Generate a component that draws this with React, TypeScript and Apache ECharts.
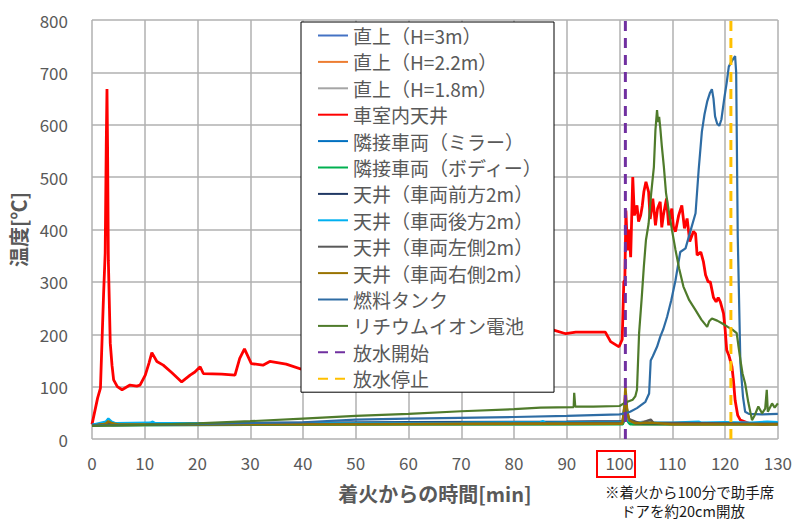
import React, { useEffect, useRef } from "react";
import * as echarts from "echarts";

type Pt = [number, number];

const FONT = "'Noto Sans CJK JP', 'Noto Sans', sans-serif";

const X_MIN = 0;
const X_MAX = 130;
const X_STEP = 10;
const Y_MIN = 0;
const Y_MAX = 800;
const Y_STEP = 100;

const seriesNames = [
  "直上（H=3m）",
  "直上（H=2.2m）",
  "直上（H=1.8m）",
  "車室内天井",
  "隣接車両（ミラー）",
  "隣接車両（ボディー）",
  "天井（車両前方2m）",
  "天井（車両後方2m）",
  "天井（車両左側2m）",
  "天井（車両右側2m）",
  "燃料タンク",
  "リチウムイオン電池",
  "放水開始",
  "放水停止",
];

const seriesColors = [
  "#4472c4",
  "#ed7d31",
  "#a5a5a5",
  "#ff0000",
  "#0070c0",
  "#00b050",
  "#203864",
  "#00b0f0",
  "#595959",
  "#997300",
  "#2e6ca4",
  "#4f7b2b",
  "#7030a0",
  "#ffc000",
];

const directH3: Pt[] = [
  [0, 26], [2.5, 27], [3, 31], [4, 28], [10, 27], [20, 27], [40, 28], [60, 29], [80, 29], [95, 30],
  [100.6, 31], [101.1, 58], [101.6, 34], [102.5, 29], [110, 28], [120, 28], [125, 28], [130, 29],
];
const directH22: Pt[] = [
  [0, 25], [3, 29], [4, 27], [20, 27], [50, 28], [80, 28], [100.6, 29], [101.1, 88], [101.5, 40],
  [102.5, 28], [130, 28],
];
const directH18: Pt[] = [
  [0, 25], [3, 28], [4, 26], [30, 27], [60, 27], [90, 28], [100.6, 29], [101.1, 70], [101.7, 36],
  [103, 30], [105.9, 36], [106.5, 30], [130, 28],
];
const cabinCeiling: Pt[] = [
  [0, 28], [1.06, 78], [1.6, 97], [2.2, 278], [2.5, 355], [2.7, 560], [2.84, 668], [2.95, 560],
  [3.1, 341], [3.46, 183], [3.8, 140], [4.1, 113], [4.8, 100], [5.7, 94], [7.2, 103], [8.5, 101],
  [9.1, 103], [10.1, 122], [10.8, 145], [11.34, 165], [12.3, 148], [13.5, 141], [15.2, 126],
  [17.0, 109], [18.6, 122], [19.5, 128], [20.5, 138], [21.1, 125], [24.6, 124], [27.1, 122],
  [28.0, 154], [28.9, 172], [30.2, 144], [32.4, 141], [33.7, 148], [36.8, 143], [41.3, 128],
  [42.8, 143], [45.6, 128], [47.9, 137], [49.4, 126], [53.8, 130], [57.0, 137], [58.6, 166],
  [60.8, 150], [62.7, 160], [64.9, 170], [66.1, 163], [67.7, 171], [71.5, 158], [74.0, 160],
  [77.1, 173], [80.0, 189], [81.5, 176], [84.1, 183], [86.6, 207], [87.2, 209], [89.8, 201],
  [91.7, 204], [93.6, 204], [97.3, 204], [98.3, 186], [99.9, 176], [100.5, 190], [100.8, 300],
  [101.0, 303], [101.2, 436], [101.5, 360], [101.8, 400], [102.1, 347], [102.5, 500], [102.8, 427],
  [103.3, 446], [103.6, 415], [104.0, 427], [104.3, 445], [104.6, 472], [105.0, 491], [105.5, 472],
  [105.8, 420], [106.0, 434], [106.3, 459], [106.6, 430], [106.8, 408], [107.2, 440], [107.7, 453],
  [108.0, 404], [108.3, 427], [108.9, 459], [109.3, 408], [109.6, 425], [109.9, 440], [110.2, 405],
  [110.6, 396], [111.2, 427], [111.8, 446], [112.3, 402], [112.8, 421], [113.3, 377], [114.0, 396],
  [114.4, 392], [114.7, 351], [115.4, 357], [115.9, 338], [116.3, 313], [116.8, 300], [117.2, 300],
  [117.8, 270], [118.3, 262], [118.7, 270], [119.1, 262], [119.7, 240], [120.0, 210], [120.3, 170],
  [120.7, 160], [121.3, 138], [121.6, 110], [121.9, 74], [122.4, 45], [122.9, 36], [124.5, 30],
  [127, 28], [130, 29],
];
const adjMirror: Pt[] = [
  [0, 27], [20, 28], [50, 29], [80, 30], [100.6, 31], [101.1, 50], [101.8, 30], [120, 29], [130, 30],
];
const adjBody: Pt[] = [
  [0, 26], [30, 27], [60, 28], [90, 28], [100.6, 28], [101.1, 40], [102, 28], [130, 28],
];
const ceilFront: Pt[] = [
  [0, 27], [2.8, 30], [4, 28], [30, 30], [60, 32], [90, 33], [100.6, 34], [101.1, 72], [101.7, 38],
  [103, 30], [130, 29],
];
const ceilRear: Pt[] = [
  [0, 27], [2.6, 33], [3.1, 39], [3.7, 33], [4.5, 30], [11, 31], [11.5, 33], [12, 30], [40, 30],
  [43, 32], [43.5, 30], [70, 31], [85, 32], [85.5, 34], [86, 31], [100.6, 32], [101.1, 80],
  [101.7, 34], [103, 31], [110, 31], [115, 33], [115.5, 31], [120, 32], [125, 31], [128, 33], [130, 32],
];
const ceilLeft: Pt[] = [
  [0, 26], [3, 29], [4, 27], [30, 28], [60, 29], [90, 30], [100.6, 31], [101.1, 65], [101.8, 38],
  [103, 33], [104, 30], [105.9, 37], [106.4, 31], [130, 29],
];
const ceilRight: Pt[] = [
  [0, 25], [2.6, 29], [3.1, 34], [3.8, 30], [5, 28], [20, 28], [50, 28], [80, 29], [100.5, 29],
  [100.9, 60], [101.1, 100], [101.4, 60], [101.8, 35], [103, 30], [106, 31], [110, 28], [130, 28],
];
const fuelTank: Pt[] = [
  [0, 26], [10, 27], [20, 29], [40, 32], [50, 37], [60, 39], [80, 42], [90, 44], [100, 47], [101, 49],
  [102, 52], [103.3, 59], [104.9, 71], [105.6, 87], [105.9, 150], [106.3, 158], [107.1, 176],
  [107.7, 195], [108.3, 210], [109.0, 233], [109.8, 265], [110.6, 303], [111.5, 357], [112.5, 364],
  [113.4, 396], [114.4, 431], [115.0, 515], [115.6, 587], [116.1, 620], [116.6, 644], [117.1, 660],
  [117.5, 668], [117.8, 650], [118.1, 616], [118.5, 602], [118.9, 598], [119.3, 610], [119.9, 654],
  [120.3, 680], [120.7, 711], [121.3, 722], [121.9, 731], [122.1, 700], [122.4, 386], [122.9, 144],
  [123.4, 80], [123.8, 52], [124.5, 48], [127, 47], [130, 48],
];
const liionBattery: Pt[] = [
  [0, 25], [10, 27], [20, 30], [30, 34], [40, 39], [50, 44], [60, 48], [70, 53], [80, 57], [85, 60],
  [91.3, 61], [91.4, 88], [91.6, 62], [95, 62], [100, 63], [100.8, 68], [101.5, 71], [102.5, 75],
  [103.0, 82], [103.3, 94], [103.7, 202], [104.2, 270], [104.6, 329], [105.0, 380], [105.5, 411],
  [106.0, 470], [106.5, 519], [106.8, 590], [107.1, 628], [107.3, 605], [107.5, 615], [107.7, 596],
  [108.0, 560], [108.4, 519], [108.8, 470], [109.3, 437], [110.0, 395], [110.6, 361], [111.3, 325],
  [112.1, 291], [113.2, 265], [114.4, 246], [115.5, 228], [116.6, 214], [117.0, 225], [117.5, 230],
  [118.5, 226], [119.4, 221], [120.5, 214], [121.5, 208], [122.2, 202], [122.5, 180], [122.9, 151],
  [123.3, 125], [123.8, 106], [124.4, 70], [125.1, 36], [125.6, 45], [126.3, 62], [127.0, 49],
  [127.6, 58], [127.9, 94], [128.1, 52], [128.9, 68], [129.4, 60], [130, 68],
];
const waterStart: Pt[] = [[101.1, 0], [101.1, 800]];
const waterStop: Pt[] = [[121.1, 0], [121.1, 800]];

const seriesData: Pt[][] = [
  directH3, directH22, directH18, cabinCeiling, adjMirror, adjBody, ceilFront, ceilRear,
  ceilLeft, ceilRight, fuelTank, liionBattery, waterStart, waterStop,
];

export default function App() {
  const ref = useRef<HTMLDivElement>(null);
  useEffect(() => {
    if (!ref.current) return;
    const chart = echarts.init(ref.current, undefined, { renderer: "svg" });
    const series = seriesNames.map((name, i) => {
      const dashed = i >= 12;
      return {
        name,
        type: "line",
        data: seriesData[i],
        showSymbol: false,
        symbol: "none",
        z: dashed ? 5 : 2,
        lineStyle: {
          color: seriesColors[i],
          width: dashed ? 3 : i === 3 ? 2.8 : i >= 10 ? 2.2 : 2.4,
          type: dashed ? [10, 7] : "solid",
        },
        itemStyle: { color: seriesColors[i] },
      };
    });
    chart.setOption({
      animation: false,
      textStyle: { fontFamily: FONT },
      grid: { left: 92, right: 16, top: 20, bottom: 84, containLabel: false },
      xAxis: {
        type: "value",
        min: X_MIN,
        max: X_MAX,
        interval: X_STEP,
        name: "着火からの時間[min]",
        nameLocation: "middle",
        nameGap: 44,
        nameTextStyle: { fontSize: 20, fontWeight: "bold", color: "#595959", fontFamily: FONT },
        axisLine: { show: false },
        axisTick: { show: false },
        axisLabel: { fontSize: 17, color: "#595959", margin: 15, fontFamily: FONT },
        splitLine: { show: true, lineStyle: { color: "#b0b0b0", width: 1.5 } },
      },
      yAxis: {
        type: "value",
        min: Y_MIN,
        max: Y_MAX,
        interval: Y_STEP,
        name: "温度[℃]",
        nameLocation: "middle",
        nameGap: 60,
        nameTextStyle: { fontSize: 20, fontWeight: "bold", color: "#595959", fontFamily: FONT },
        axisLine: { show: false },
        axisTick: { show: false },
        axisLabel: { fontSize: 17, color: "#595959", margin: 24, fontFamily: FONT },
        splitLine: { show: true, lineStyle: { color: "#b0b0b0", width: 1.5 } },
      },
      legend: {
        data: seriesNames,
        orient: "vertical",
        left: 301,
        top: 22,
        itemWidth: 30,
        itemHeight: 14,
        itemGap: 7.4,
        padding: [4, 11, 4, 16],
        backgroundColor: "#ffffff",
        borderColor: "#000000",
        borderWidth: 1,
        selectedMode: false,
        itemStyle: { opacity: 0, borderWidth: 0 },
        textStyle: { fontSize: 19, lineHeight: 14, color: "#595959", fontFamily: FONT },
      },
      graphic: [
        {
          type: "rect",
          shape: { x: 597, y: 451, width: 38, height: 26 },
          style: { fill: "none", stroke: "#ff0000", lineWidth: 2 },
          z: 10,
        },
        {
          type: "text",
          x: 605,
          y: 484,
          style: {
            text: "※着火から100分で助手席",
            fontSize: 14.5,
            fill: "#1a1a1a",
            fontFamily: FONT,
          },
        },
        {
          type: "text",
          x: 621,
          y: 503,
          style: {
            text: "ドアを約20cm開放",
            fontSize: 14.5,
            fill: "#1a1a1a",
            fontFamily: FONT,
          },
        },
      ],
      series,
    });
    return () => chart.dispose();
  }, []);
  return (
    <div
      ref={ref}
      style={{ position: "fixed", left: 0, top: 0, width: 795, height: 523, background: "#fff" }}
    />
  );
}
